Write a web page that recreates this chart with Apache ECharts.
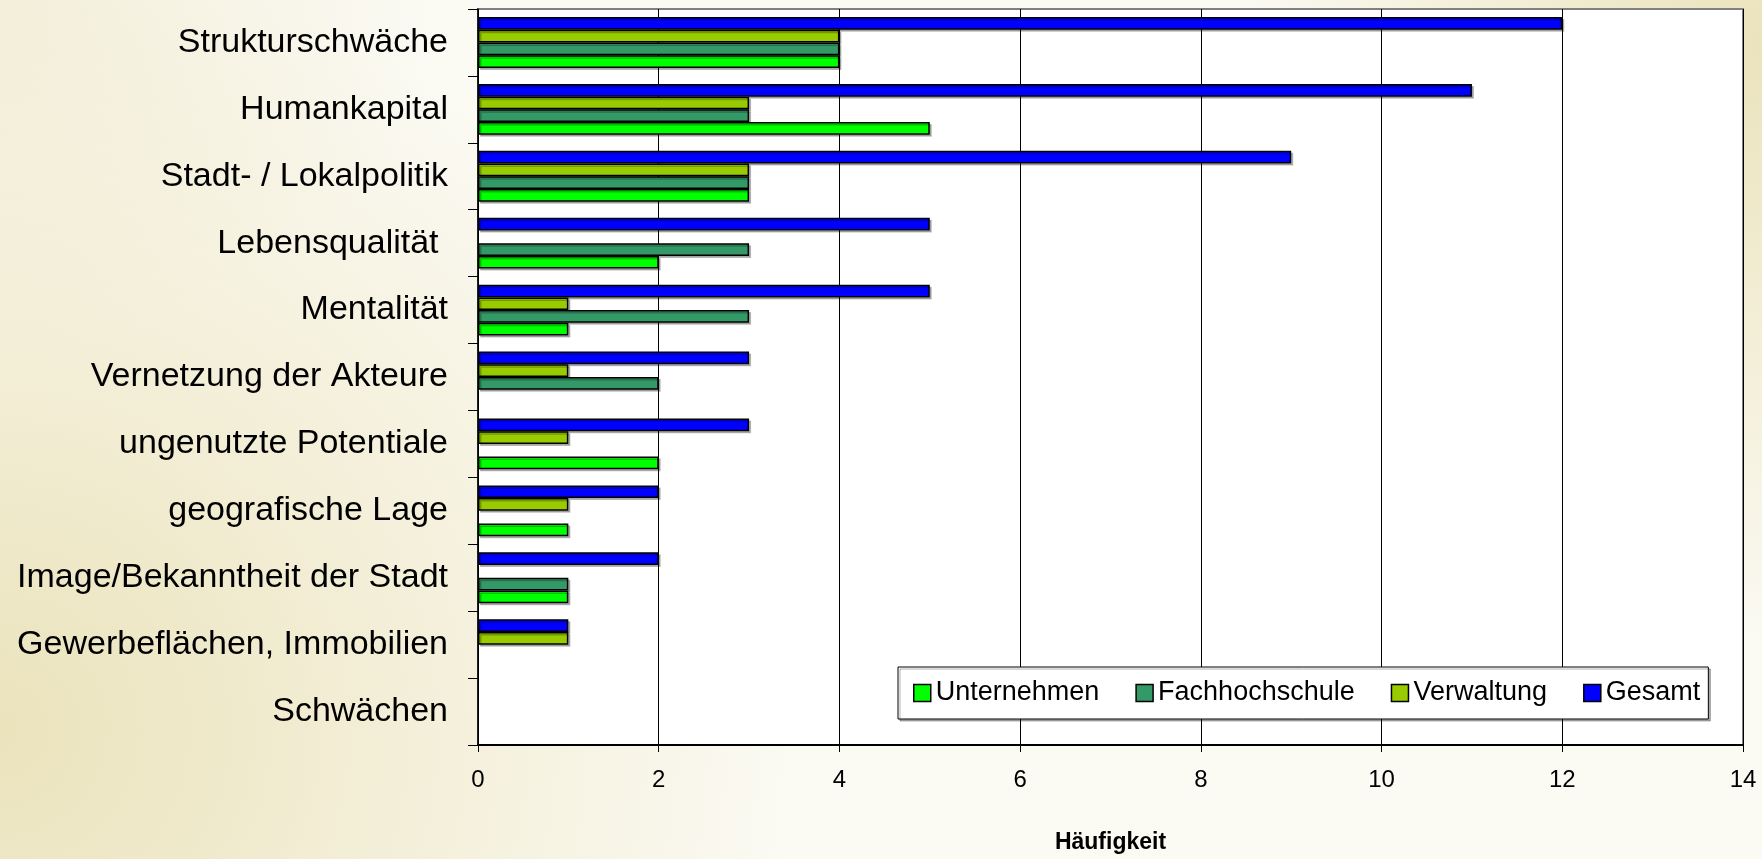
<!DOCTYPE html>
<html>
<head>
<meta charset="utf-8">
<script src="https://cdn.jsdelivr.net/npm/echarts@6/dist/echarts.min.js"></script>
<style>
	html, body { margin: 0; padding: 0; }
	body {
		width: 1762px; height: 859px; overflow: hidden;
		background:
			radial-gradient(ellipse 45% 90% at 0% 85%, rgba(235,227,188,1) 0%, rgba(235,227,188,0) 100%),
			radial-gradient(ellipse 30% 70% at 100% 5%, rgba(235,227,188,1) 0%, rgba(235,227,188,0) 100%),
			radial-gradient(ellipse 25% 40% at 0% 0%, rgba(240,235,210,0.7) 0%, rgba(240,235,210,0) 100%),
			#fbfaf3;
	}
	#container { width: 1762px; height: 859px; }
</style>
</head>
<body>
<div id="container"></div>
<script>
// Kategorien von oben nach unten
var categories = ['Strukturschwäche', 'Humankapital', 'Stadt- / Lokalpolitik', 'Lebensqualität ',
	'Mentalität', 'Vernetzung der Akteure', 'ungenutzte Potentiale', 'geografische Lage',
	'Image/Bekanntheit der Stadt', 'Gewerbeflächen, Immobilien', 'Schwächen'];
// '-' = kein Balken
var unternehmen    = [4, 5, 3, 2, 1, '-', 2, 1, 1, '-', '-'];
var fachhochschule = [4, 3, 3, 3, 3, 2, '-', '-', 1, '-', '-'];
var verwaltung     = [4, 3, 3, '-', 1, 1, 1, 1, '-', 1, '-'];
var gesamt         = [12, 11, 9, 5, 5, 3, 3, 2, 2, 1, '-'];
var xTicks = [0, 2, 4, 6, 8, 10, 12, 14];

(function() {
	var myChart = echarts.init(document.getElementById('container'));

	function barSeries(name, color, values) {
		return {
			name: name,
			type: 'bar',
			data: values,
			barGap: '0%',
			barCategoryGap: '24%',
			itemStyle: {
				color: color,
				borderColor: '#000',
				borderWidth: 1.5,
				shadowColor: 'rgba(0,0,0,0.25)',
				shadowOffsetX: 2,
				shadowOffsetY: 2
			}
		};
	}

	var option = {
		backgroundColor: 'transparent',
		animation: false,
		textStyle: { fontFamily: 'Liberation Sans, Arial, sans-serif' },
		grid: {
			left: 478,
			right: 19,
			top: 9,
			bottom: 99,
			show: true,
			backgroundColor: '#fff',
			borderColor: '#808080',
			borderWidth: 2
		},
		legend: {
			left: 898,
			top: 667,
			padding: [12, 8, 12, 15],
			itemWidth: 17,
			itemHeight: 17,
			itemGap: 36,
			icon: 'rect',
			backgroundColor: '#fff',
			borderColor: '#000',
			borderWidth: 1,
			shadowColor: 'rgba(0,0,0,0.3)',
			shadowOffsetX: 2,
			shadowOffsetY: 2,
			itemStyle: { borderColor: '#000', borderWidth: 1.5 },
			textStyle: { fontSize: 27, lineHeight: 28, color: '#000', fontFamily: 'Liberation Sans, Arial, sans-serif' },
			data: ['Unternehmen', 'Fachhochschule', 'Verwaltung', 'Gesamt']
		},
		xAxis: {
			type: 'value',
			min: xTicks[0],
			max: xTicks[xTicks.length - 1],
			interval: xTicks[1] - xTicks[0],
			name: 'Häufigkeit',
			nameLocation: 'middle',
			nameGap: 86,
			nameTextStyle: { fontSize: 23, fontWeight: 'bold', color: '#000' },
			axisLine: { show: true, lineStyle: { color: '#000', width: 2 } },
			axisTick: { show: true, length: 7, lineStyle: { color: '#000' } },
			axisLabel: { fontSize: 24, color: '#000', margin: 23 },
			splitLine: { show: true, lineStyle: { color: '#000', width: 1 } }
		},
		yAxis: {
			type: 'category',
			inverse: true,
			data: categories,
			axisLine: { show: true, lineStyle: { color: '#000', width: 1.5 } },
			axisTick: { show: true, length: 10, lineStyle: { color: '#000' } },
			axisLabel: { fontSize: 34, color: '#000', margin: 30 },
			splitLine: { show: false }
		},
		// bei inverser Kategorieachse liegt die erste Serie oben
		series: [
			barSeries('Gesamt', '#0000ff', gesamt),
			barSeries('Verwaltung', '#99cc00', verwaltung),
			barSeries('Fachhochschule', '#339966', fachhochschule),
			barSeries('Unternehmen', '#00ff00', unternehmen)
		]
	};
	myChart.setOption(option);
})();
</script>
</body>
</html>
